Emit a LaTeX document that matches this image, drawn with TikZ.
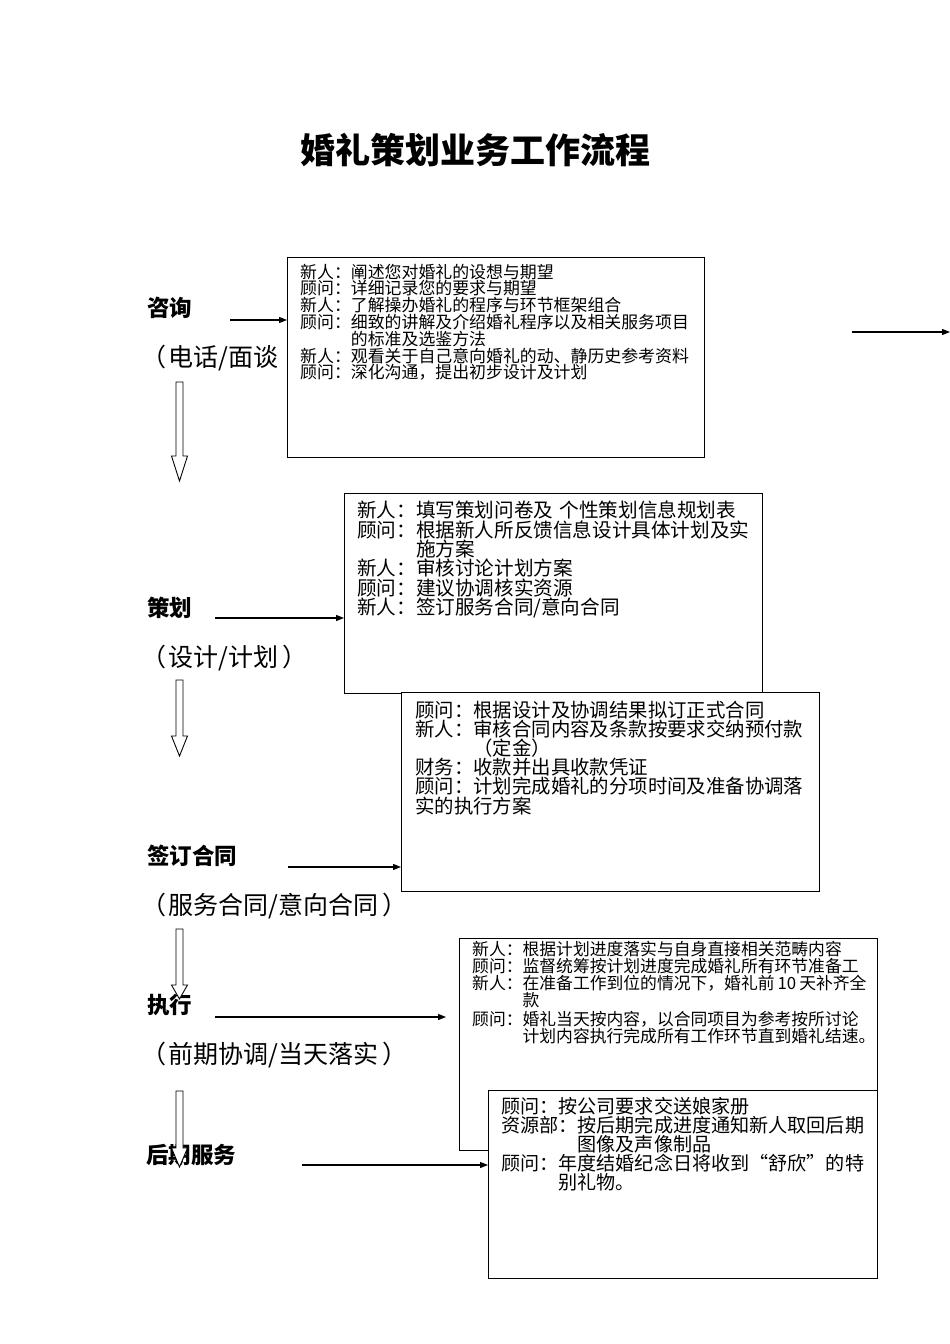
\documentclass[tikz,border=0pt]{standalone}
\usepackage{fontspec}
\setmainfont{Noto Sans CJK SC}
\usetikzlibrary{arrows.meta,positioning}
\newcommand{\lp}{（\hspace{2pt}}
\newcommand{\rp}{\hspace{4pt}）}

\begin{document}
\begin{tikzpicture}[x=1pt,y=-1pt,>={Triangle[length=8pt,width=6pt]},
  box/.style={draw,line width=1pt,fill=white,anchor=north west,inner sep=0pt},
  boxtext/.style={anchor=base west,inner sep=0pt,text width=420pt,align=left},
  stage/.style={anchor=west,inner sep=0pt,font=\bfseries\fontsize{22.5}{24}\selectfont},
  subtitle/.style={anchor=west,inner sep=0pt,font=\fontsize{25}{27}\selectfont},
  conn/.style={->,line width=1.1pt},
  hollow/.style={draw,line width=0.9pt,fill=white}]
  \useasboundingbox (0,0) rectangle (950,1344);
  \node[font=\bfseries\fontsize{35}{40}\selectfont] (title) at (475,150) {婚礼策划业务工作流程};

  % stages on the left
  \node[stage] (zixun) at (147,308) {咨询};
  \node[subtitle] (zixunsub) at (141,358) {\lp 电话/面谈};
  \node[stage] (cehua) at (147,608) {策划};
  \node[subtitle] (cehuasub) at (141,658) {\lp 设计/计划\rp};
  \node[stage] (hetong) at (147,856) {签订合同};
  \node[subtitle] (hetongsub) at (141,906) {\lp 服务合同/意向合同\rp};
  \node[stage] (zhixing) at (147,1005) {执行};
  \node[subtitle] (zhixingsub) at (141,1055) {\lp 前期协调/当天落实\rp};
  \node[stage] (houqi) at (146,1155) {后期服务};

  \foreach \x/\ytop/\yneck/\ytip in {179.5/382/456/481, 179.5/680/736/756,
      179.5/929/985/999, 179.5/1091/1148/1167}
    \draw[hollow] (\x-3.5,\ytop) -- (\x+3.5,\ytop) -- (\x+3.5,\yneck) -- (\x+8,\yneck)
      -- (\x,\ytip) -- (\x-8,\yneck) -- (\x-3.5,\yneck) -- cycle;

  % boxes
  \node[box,minimum width=417pt,minimum height=200pt] (b1) at (287,257) {};
  \node[boxtext,font=\fontsize{16.9}{16.8}\selectfont] (t1) at (300,278)
    {新人：阐述您对婚礼的设想与期望\\顾问：详细记录您的要求与期望\\新人：了解操办婚礼的程序与环节框架组合\\
     顾问：细致的讲解及介绍婚礼程序以及相关服务项目\\\hspace*{3em}的标准及选鉴方法\\
     新人：观看关于自己意向婚礼的动、静历史参考资料\\顾问：深化沟通，提出初步设计及计划};
  \node[box,minimum width=418pt,minimum height=200pt] (b2) at (344,493) {};
  \node[boxtext,font=\fontsize{19.6}{19.4}\selectfont] (t2) at (357,517.7)
    {新人：填写策划问卷及 个性策划信息规划表\\顾问：根据新人所反馈信息设计具体计划及实\\\hspace*{3em}施方案\\
     新人：审核讨论计划方案\\顾问：建议协调核实资源\\新人：签订服务合同/意向合同};
  \node[box,minimum width=418pt,minimum height=199pt] (b3) at (401,692) {};
  \node[boxtext,font=\fontsize{19.4}{19.2}\selectfont] (t3) at (415,717)
    {顾问：根据设计及协调结果拟订正式合同\\新人：审核合同内容及条款按要求交纳预付款\\\hspace*{3em}（定金）\\
     财务：收款并出具收款凭证\\顾问：计划完成婚礼的分项时间及准备协调落\\实的执行方案};
  \node[box,minimum width=418pt,minimum height=212pt] (b4) at (459,938) {};
  \node[boxtext,font=\fontsize{16.8}{17}\selectfont] (t4) at (472,955)
    {新人：根据计划进度落实与自身直接相关范畴内容\\顾问：监督统筹按计划进度完成婚礼所有环节准备工\\
     新人：在准备工作到位的情况下，婚礼前\hspace{3pt}10\hspace{3pt}天补齐全\\\hspace*{3em}款\\[2pt]
     顾问：婚礼当天按内容，以合同项目为参考按所讨论\\\hspace*{3em}计划内容执行完成所有工作环节直到婚礼结速。};
  \node[box,minimum width=389pt,minimum height=188pt] (b5) at (488,1090) {};
  \node[boxtext,font=\fontsize{19.1}{19}\selectfont] (t5) at (501,1113.8)
    {顾问：按公司要求交送娘家册\\资源部：按后期完成进度通知新人取回后期\\\hspace*{4em}图像及声像制品\\
     顾问：年度结婚纪念日将收到“舒欣”的特\\\hspace*{3em}别礼物。};

  % connectors
  \coordinate (s1) at (230,320);
  \coordinate (r1) at (852,332);
  \coordinate (r2) at (950,332);
  \coordinate (s2) at (215,618);
  \coordinate (s3) at (288,867);
  \coordinate (s4) at (215,1017);
  \coordinate (e4) at (446,1017);
  \coordinate (s5) at (302,1165);
  \draw[conn] (s1) -- (s1 -| b1.west);
  \draw[conn] (r1) -- (r2);
  \draw[conn] (s2) -- (s2 -| b2.west);
  \draw[conn] (s3) -- (s3 -| b3.west);
  \draw[conn] (s4) -- (e4);
  \draw[conn] (s5) -- (s5 -| b5.west);
\end{tikzpicture}
\end{document}
